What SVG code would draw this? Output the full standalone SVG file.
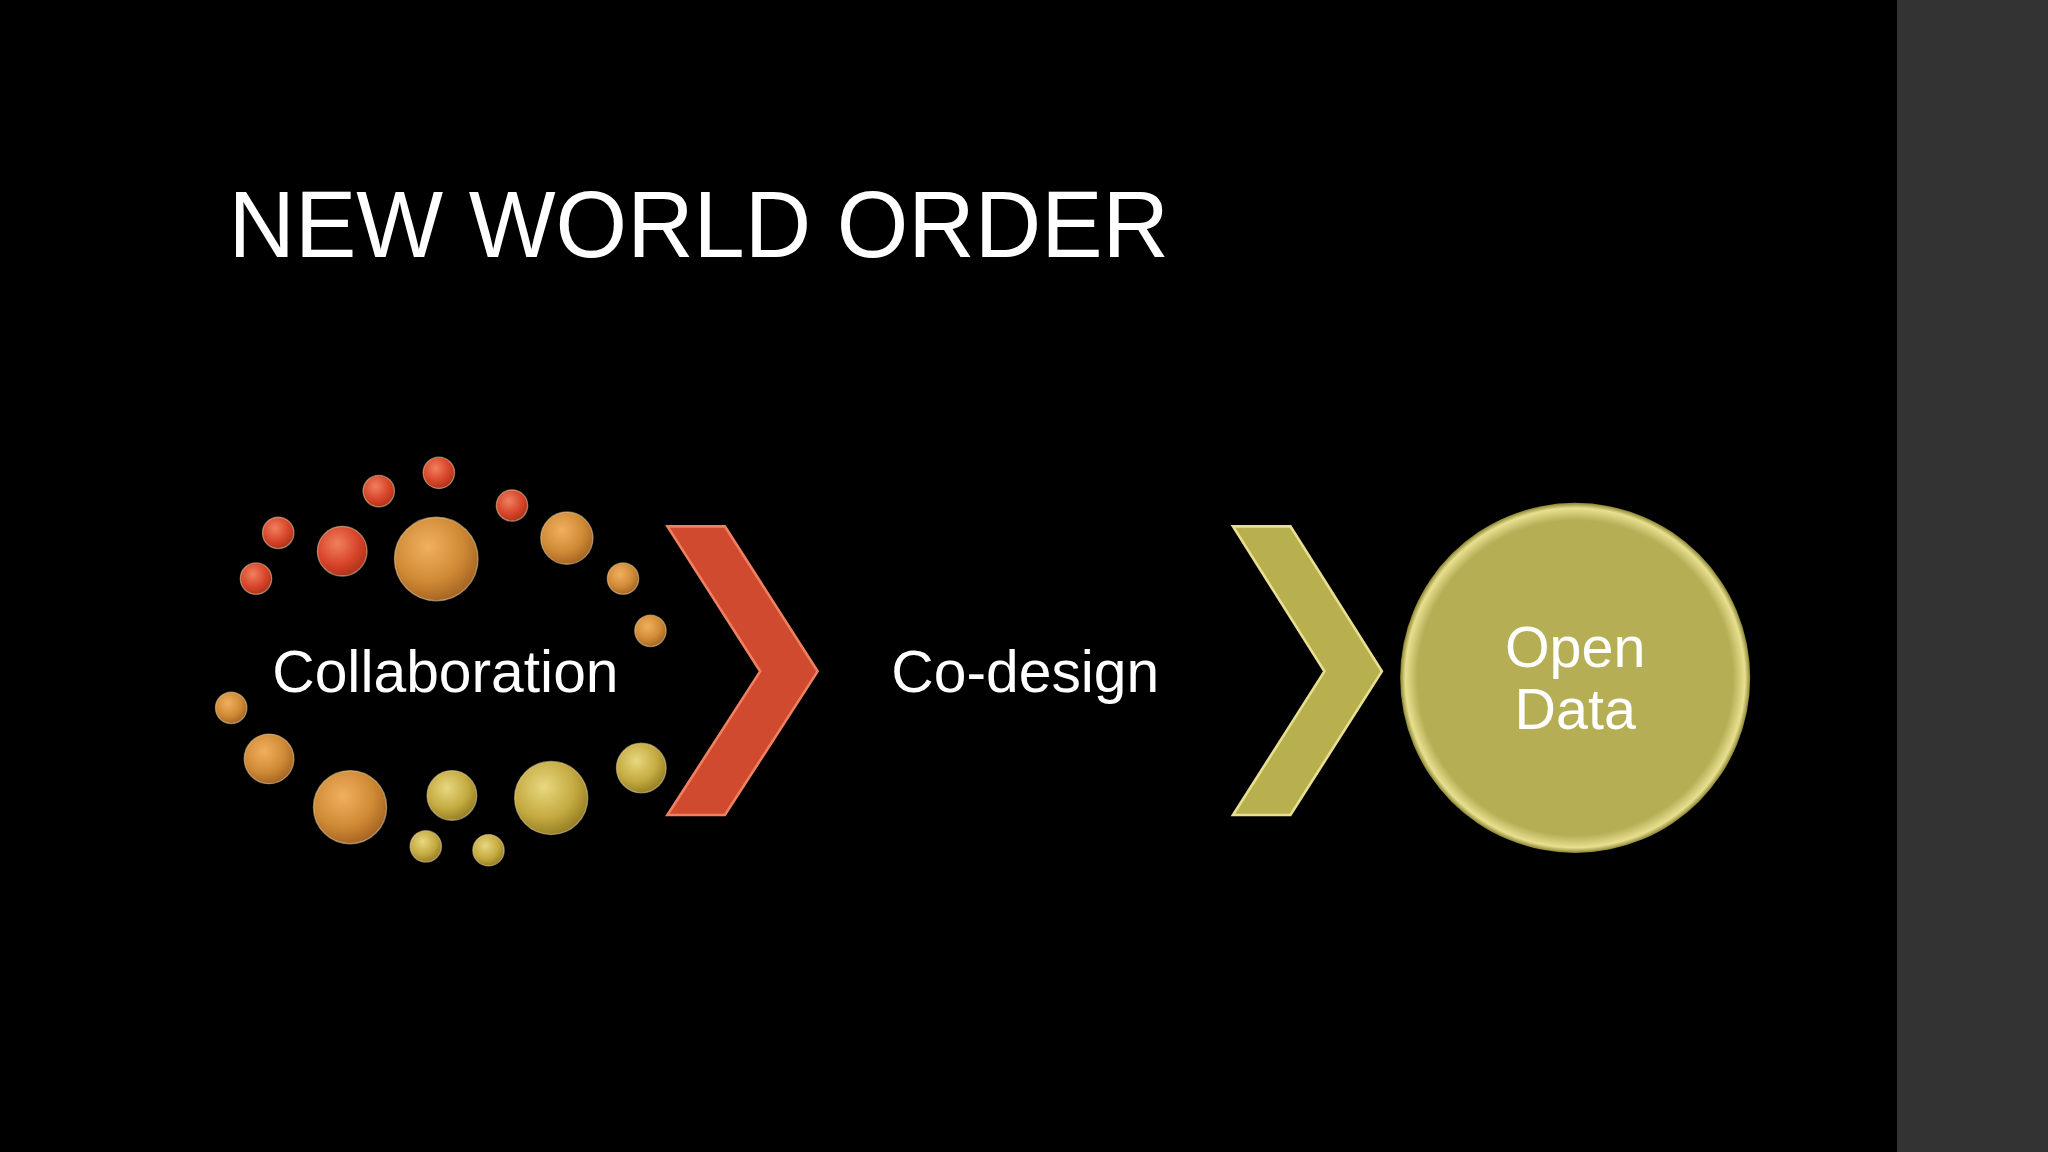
<svg xmlns="http://www.w3.org/2000/svg" width="2048" height="1152" viewBox="0 0 2048 1152">
<defs>
<radialGradient id="gr" cx="0.4" cy="0.35" r="0.7"><stop offset="0" stop-color="#f08060"/><stop offset="0.6" stop-color="#d8452a"/><stop offset="1" stop-color="#a83018"/></radialGradient>
<radialGradient id="go" cx="0.4" cy="0.35" r="0.7"><stop offset="0" stop-color="#f0b060"/><stop offset="0.6" stop-color="#d08a35"/><stop offset="1" stop-color="#a06020"/></radialGradient>
<radialGradient id="gy" cx="0.4" cy="0.35" r="0.7"><stop offset="0" stop-color="#e8d880"/><stop offset="0.6" stop-color="#c4aa40"/><stop offset="1" stop-color="#907a20"/></radialGradient>
<radialGradient id="gc" cx="0.5" cy="0.5" r="0.5"><stop offset="0.9" stop-color="#b5ae55"/><stop offset="0.97" stop-color="#e8e090"/><stop offset="1" stop-color="#8a8430"/></radialGradient>
<style>
text{font-family:"Liberation Sans",Arial,sans-serif;fill:#fff}
.b{stroke:#f4e0b0;stroke-width:1;stroke-opacity:0.5}
</style>
</defs>
<rect width="2048" height="1152" fill="#000"/>
<rect x="1897" y="0" width="151" height="1152" fill="#333"/>
<g transform="scale(1.30612)">
<text id="title" x="175" y="197" font-size="72" textLength="720" lengthAdjust="spacingAndGlyphs">NEW WORLD ORDER</text>
<g id="collaboration">
<g class="b">
<circle cx="196" cy="443" r="12" fill="url(#gr)"/>
<circle cx="213" cy="408" r="12" fill="url(#gr)"/>
<circle cx="262" cy="422" r="19" fill="url(#gr)"/>
<circle cx="290" cy="376" r="12" fill="url(#gr)"/>
<circle cx="336" cy="362" r="12" fill="url(#gr)"/>
<circle cx="334" cy="428" r="32" fill="url(#go)"/>
<circle cx="392" cy="387" r="12" fill="url(#gr)"/>
<circle cx="434" cy="412" r="20" fill="url(#go)"/>
<circle cx="477" cy="443" r="12" fill="url(#go)"/>
<circle cx="498" cy="483" r="12" fill="url(#go)"/>
<circle cx="177" cy="542" r="12" fill="url(#go)"/>
<circle cx="206" cy="581" r="19" fill="url(#go)"/>
<circle cx="268" cy="618" r="28" fill="url(#go)"/>
<circle cx="346" cy="609" r="19" fill="url(#gy)"/>
<circle cx="326" cy="648" r="12" fill="url(#gy)"/>
<circle cx="374" cy="651" r="12" fill="url(#gy)"/>
<circle cx="422" cy="611" r="28" fill="url(#gy)"/>
<circle cx="491" cy="588" r="19" fill="url(#gy)"/>
</g>
<text x="341" y="530" font-size="45" text-anchor="middle">Collaboration</text>
</g>
<g id="chevron1">
<polygon points="511,403 555,403 626,514 555,624 511,624 582,514" fill="#d04a30" stroke="#f08060" stroke-width="2"/>
</g>
<g id="codesign"><text x="785" y="530" font-size="45" text-anchor="middle">Co-design</text></g>
<g id="chevron2">
<polygon points="944,403 988,403 1058,514 988,624 944,624 1014,514" fill="#b8b04e" stroke="#e8e090" stroke-width="2"/>
</g>
<g id="opendata">
<circle cx="1206" cy="519" r="134" fill="url(#gc)"/>
<text x="1206" y="511" font-size="44" text-anchor="middle">Open</text>
<text x="1206" y="558" font-size="44" text-anchor="middle">Data</text>
</g>
</g>
</svg>
